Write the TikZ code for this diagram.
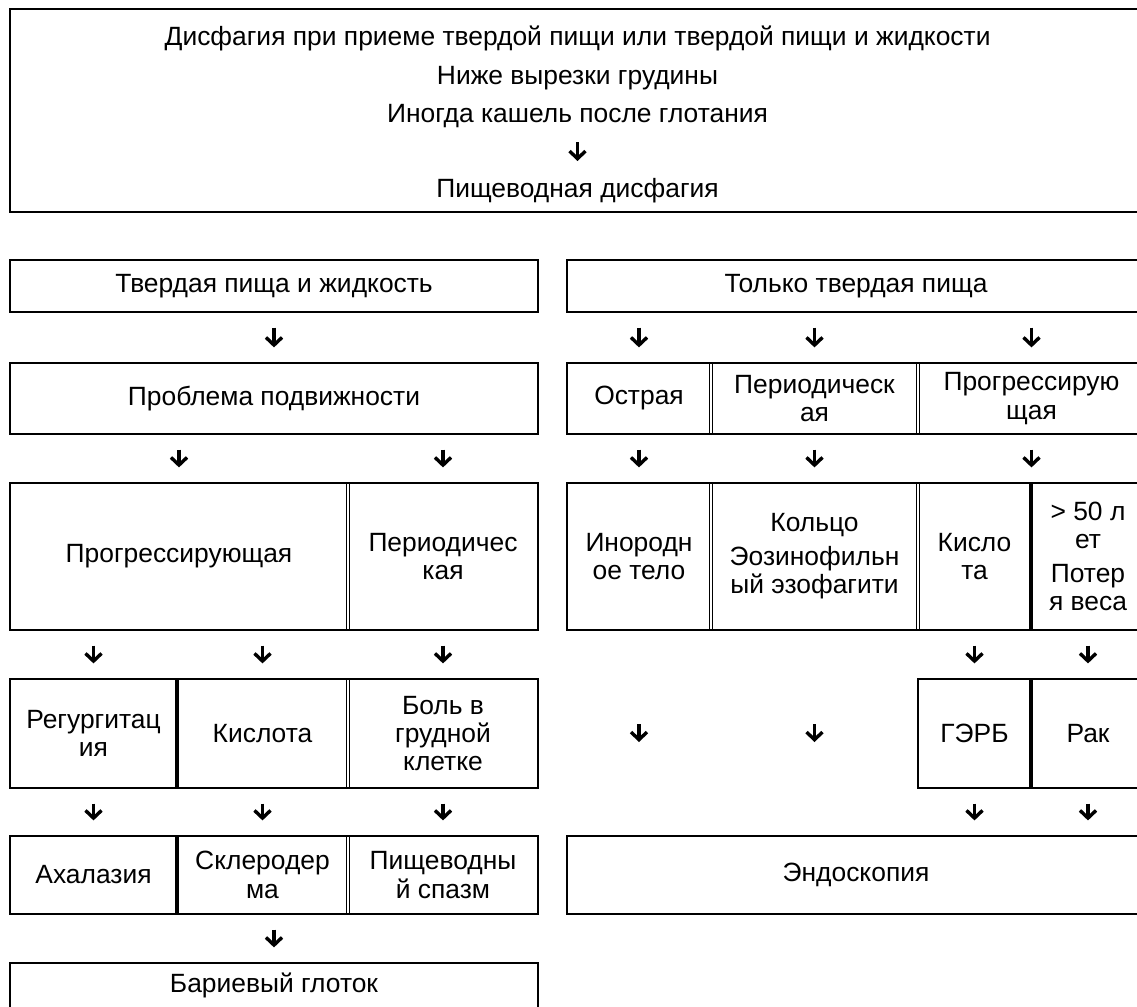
\documentclass[tikz,border=0pt]{standalone}
\usepackage{fontspec}
\setmainfont{Liberation Sans}
\usetikzlibrary{arrows.meta}

\tikzset{
  cell/.style={draw, line width=1.1pt, inner sep=0pt, outer sep=0pt, align=center,
    font=\fontsize{13.2}{14.2}\selectfont},
  txt/.style={inner sep=0pt, align=center, font=\fontsize{13.2}{19.25}\selectfont},
  dsep/.style={double, line width=0.6pt, double distance=0.8pt, shorten <=0.55pt, shorten >=0.55pt},
  tsep/.style={line width=1.7pt, shorten <=0.55pt, shorten >=0.55pt},
  arr/.style={line width=1.7pt, -{Straight Barb[length=3.8pt,width=8pt]}, shorten <=7.8pt, shorten >=7.8pt},
}
% ячейка по углам (x1,y1) (x2,y2), в пикселях
\newcommand{\cellnode}[6]{%
  \node[cell, minimum width={(#4-#2)*0.5pt}, minimum height={(#5-#3)*0.5pt}]
    (#1) at ({(#2+#4)/2},{(#3+#5)/2}) {#6};}

\begin{document}
\begin{tikzpicture}[x=0.5pt,y=-0.5pt]
  \useasboundingbox (0,0) rectangle (1137,1007);
  % края столбцов (левая и правая ветви)
  \def\xA{10} \def\xB{177} \def\xC{348} \def\xD{538}
  \def\xE{567} \def\xF{711} \def\xG{918} \def\xH{1031} \def\xI{1145}

  % общий блок сверху
  \cellnode{top}{\xA}{9}{\xI}{212}{}
  \node[txt] (sympt) at (577.5,77) {Дисфагия при приеме твердой пищи или твердой пищи и жидкости\\Ниже вырезки грудины\\Иногда кашель после глотания};
  \node[txt] (esoph) at (577.5,191) {Пищеводная дисфагия};
  \draw[arr, shorten <=32.5pt, shorten >=15pt] (sympt.center) -- (esoph.center);

  % левая ветвь
  \cellnode{solliq}{\xA}{260}{\xD}{312}{Твердая пища и жидкость}
  \cellnode{motil}{\xA}{363}{\xD}{434}{Проблема подвижности}
  \cellnode{prog}{\xA}{483}{\xC}{630}{Прогрессирующая}
  \cellnode{inter}{\xC}{483}{\xD}{630}{Периодичес\\кая}
  \cellnode{regurg}{\xA}{679}{\xB}{788}{Регургитац\\ия}
  \cellnode{acid}{\xB}{679}{\xC}{788}{Кислота}
  \cellnode{chest}{\xC}{679}{\xD}{788}{Боль в\\грудной\\клетке}
  \cellnode{achal}{\xA}{836}{\xB}{914}{Ахалазия}
  \cellnode{sclero}{\xB}{836}{\xC}{914}{Склеродер\\ма}
  \cellnode{spasm}{\xC}{836}{\xD}{914}{Пищеводны\\й спазм}
  \cellnode{barium}{\xA}{963}{\xD}{1008}{Бариевый глоток}

  % правая ветвь
  \cellnode{solid}{\xE}{260}{\xI}{312}{Только твердая пища}
  \cellnode{acute}{\xE}{363}{\xF}{434}{Острая}
  \cellnode{interm}{\xF}{363}{\xG}{434}{Периодическ\\ая}
  \cellnode{progr}{\xG}{363}{\xI}{434}{Прогрессирую\\щая}
  \cellnode{foreign}{\xE}{483}{\xF}{630}{Инородн\\ое тело}
  \cellnode{ring}{\xF}{483}{\xG}{630}{Кольцо\\[2.5pt]Эозинофильн\\ый эзофагити}
  \cellnode{acidR}{\xG}{483}{\xH}{630}{Кисло\\та}
  \cellnode{age}{\xH}{483}{\xI}{630}{> 50 л\\ет\\[2.5pt]Потер\\я веса}
  \cellnode{gerd}{\xG}{679}{\xH}{788}{ГЭРБ}
  \cellnode{cancer}{\xH}{679}{\xI}{788}{Рак}
  \cellnode{endo}{\xE}{836}{\xI}{914}{Эндоскопия}

  % разделители ячеек
  \foreach \c in {prog,acid,sclero,acute,interm,foreign,ring}
    \draw[dsep] (\c.north east) -- (\c.south east);
  \foreach \c in {regurg,achal,acidR,gerd}
    \draw[tsep] (\c.north east) -- (\c.south east);

  % стрелки
  \draw[arr] (solliq) -- (motil);
  \foreach \c in {acute,interm,progr}
    \draw[arr] (solid.south -| \c.north) -- (\c.north);
  \foreach \c in {prog,inter}
    \draw[arr] (motil.south -| \c.north) -- (\c.north);
  \draw[arr] (acute) -- (foreign);
  \draw[arr] (interm) -- (ring);
  \draw[arr] (progr.south) -- (progr.south |- acidR.north);
  \foreach \c in {regurg,acid}
    \draw[arr] (prog.south -| \c.north) -- (\c.north);
  \draw[arr] (inter) -- (chest);
  \draw[arr] (regurg) -- (achal);
  \draw[arr] (acid) -- (sclero);
  \draw[arr] (chest) -- (spasm);
  \draw[arr] (sclero.south -| barium.north) -- (barium.north);
  \draw[arr] (acidR) -- (gerd);
  \draw[arr] (age) -- (cancer);
  \foreach \c in {foreign,ring}
    \draw[arr, shorten <=47pt, shorten >=47pt] (\c.south) -- (endo.north -| \c.south);
  \foreach \c in {gerd,cancer}
    \draw[arr] (\c.south) -- (endo.north -| \c.south);
\end{tikzpicture}
\end{document}
